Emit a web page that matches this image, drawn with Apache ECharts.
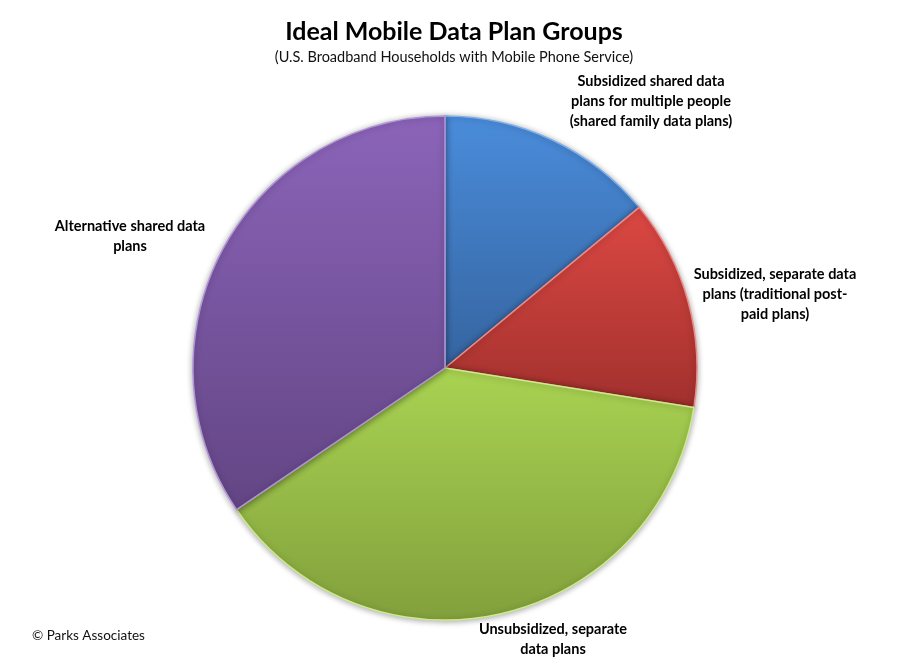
<!DOCTYPE html>
<html lang="en">
<head>
    <meta charset="UTF-8">
    <title>Ideal Mobile Data Plan Groups</title>
    <script type="text/javascript" src="https://cdn.jsdelivr.net/npm/echarts@6/dist/echarts.min.js"></script>
    <style>
        html, body { margin: 0; padding: 0; background: #fff; }
    </style>
</head>
<body>
<div id="chart" style="width: 908px;height: 660px"></div>
<script type="text/javascript">

    // plan groups, clockwise from 12 o'clock
    var categories = [
        'Subsidized shared data\nplans for multiple people\n(shared family data plans)',
        'Subsidized, separate data\nplans (traditional post-\npaid plans)',
        'Unsubsidized, separate\ndata plans',
        'Alternative shared data\nplans'
    ];
    // share of households (%)
    var shares = [14, 13.5, 38, 34.5];

    var topColors = ['#4a8cdb', '#dc4843', '#a9d352', '#8b64b9'];
    var bottomColors = ['#35649f', '#a1302d', '#82a03c', '#634584'];
    var rimColors = ['#7fb0ec', '#ef8a86', '#cdeb8a', '#b295d8'];

    // where Excel dropped each label (centre of the text block)
    var labelSpots = [[651, 101], [775, 294], [553, 639], [130, 236]];

    var myChart = echarts.init(document.getElementById('chart'));

    var pieData = categories.map(function (name, i) {
        return {
            name: name,
            value: shares[i],
            itemStyle: {
                color: new echarts.graphic.LinearGradient(0, 0, 0, 1, [
                    {offset: 0, color: topColors[i]},
                    {offset: 1, color: bottomColors[i]}
                ]),
                borderColor: rimColors[i],
                borderWidth: 1.5
            }
        };
    });

    var option = {
        animation: false,
        title: [{
            text: 'Ideal Mobile Data Plan Groups',
            left: 449,
            top: 14,
            textAlign: 'center',
            textStyle: {
                fontFamily: 'Lato',
                fontWeight: 'bold',
                fontSize: 25,
                color: '#000'
            }
        }, {
            text: '(U.S. Broadband Households with Mobile Phone Service)',
            left: 449,
            top: 45,
            textAlign: 'center',
            textStyle: {
                fontFamily: 'Lato',
                fontWeight: 'normal',
                fontSize: 14.5,
                color: '#111'
            }
        }, {
            text: '© Parks Associates',
            left: 27,
            top: 624,
            textStyle: {
                fontFamily: 'Lato',
                fontWeight: 'normal',
                fontSize: 13.5,
                color: '#111'
            }
        }],
        series: [{
            type: 'pie',
            center: [445, 368],
            radius: 252,
            startAngle: 90,
            clockwise: true,
            data: pieData,
            itemStyle: {
                shadowBlur: 6,
                shadowColor: 'rgba(0,0,0,0.35)',
                shadowOffsetY: 1
            },
            label: {
                show: true,
                position: 'outside',
                formatter: '{b}',
                fontFamily: 'Lato',
                fontWeight: 'bold',
                fontSize: 14.5,
                lineHeight: 20,
                align: 'center',
                overflow: 'none',
                color: '#000'
            },
            labelLine: {show: false},
            labelLayout: function (params) {
                var p = labelSpots[params.dataIndex];
                return {
                    x: p[0],
                    y: p[1],
                    align: 'center',
                    verticalAlign: 'middle'
                };
            },
            emphasis: {disabled: true}
        }]
    };
    myChart.setOption(option, true);
</script>
</body>
</html>
